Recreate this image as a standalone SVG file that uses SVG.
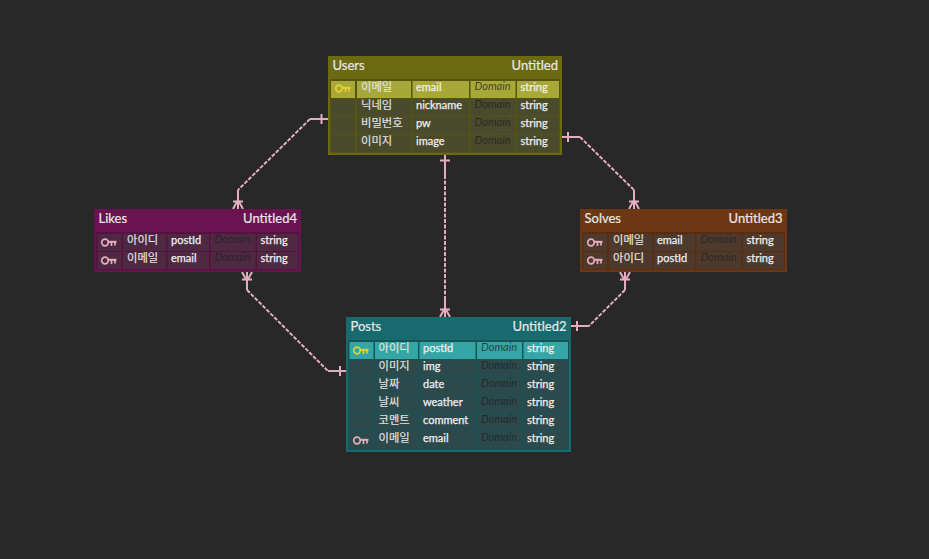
<svg xmlns="http://www.w3.org/2000/svg" width="929" height="559" viewBox="0 0 929 559">
<style>
text{font-family:"Lato","Noto Sans CJK KR",sans-serif;fill:#e8e8e8}
.h{font-size:13px;stroke:#e8e8e8;stroke-width:.2;transform:translateY(.8px)}
.e{text-anchor:end}
.n{font-size:11.300px;font-family:"Noto Sans CJK KR",sans-serif;fill:#e4e4e4;stroke:#e4e4e4;stroke-width:.15}
.f{font-size:11px;fill:#efefef;stroke:#efefef;stroke-width:.25;transform:translateY(-.8px)}
.d{font-size:11px;font-style:italic;fill:#1e1e1e;fill-opacity:.75;transform:translateY(-.5px)}
.c{fill:none;stroke:#e3adbd;stroke-width:2}
.s{stroke-dasharray:4 1.500}
.uh{fill:#6b6a10}.uf{fill:#55550f}.ur{fill:#4a4a2c}.us{fill:#a8a838}
.ph{fill:#176a6e}.pf{fill:#155457}.pr{fill:#2c4a4c}.ps{fill:#35a5a5}
.lh{fill:#6b1350}.lf{fill:#571140}.lr{fill:#4d2a42}
.sh{fill:#6d3714}.sf{fill:#582c10}.sr{fill:#4e3a2c}
.ky{color:#e3d12c}.kp{color:#e3adbd}
</style>
<defs>
<symbol id="key" viewBox="0 0 16 10" overflow="visible">
<g fill="none" stroke="currentColor"><circle cx="4" cy="4.500" r="3.300" stroke-width="1.700"/><path stroke-width="2" d="M7 3.800H15.500"/><path stroke-width="1.700" d="M10.500 4V8M14 4V7.500"/></g>
</symbol>
</defs>
<rect width="929" height="559" fill="#282828"/>
<g id="connectors">
<path class="c" d="M328 119H310"/><path class="c s" d="M310 119L238 190"/><path class="c" d="M238 190V209M321.500 114V124"/><path class="c" d="M238 200L233 209M238 200L243 209M233 201.500H243"/>
<path class="c" d="M562 137H580"/><path class="c s" d="M580 137L634 190"/><path class="c" d="M634 190V209M568 132V142"/><path class="c" d="M634 200L629 209M634 200L639 209M629 201.500H639"/>
<path class="c" d="M445 155V175"/><path class="c s" d="M445 175V297"/><path class="c" d="M445 297V317M440 160.500H450"/><path class="c" d="M445 308L440 317M445 308L450 317M440 309.500H450"/>
<path class="c" d="M247 272V290"/><path class="c s" d="M247 290L328 371"/><path class="c" d="M328 371H346M340 366V376"/><path class="c" d="M247 281L242 272M247 281L252 272M242 279.500H252"/>
<path class="c" d="M625 272V290"/><path class="c s" d="M625 290L589 326"/><path class="c" d="M589 326H571M577 321V331"/><path class="c" d="M625 281L620 272M625 281L630 272M620 279.500H630"/>
</g>
<g id="users">
<rect class="uh" x="328" y="56" width="234" height="99"/>
<rect class="uf" x="330" y="79" width="230" height="74"/>
<rect class="us" x="331" y="81" width="24" height="17"/><rect class="us" x="357" y="81" width="54" height="17"/><rect class="us" x="412.500" y="81" width="56.500" height="17"/><rect class="us" x="470.500" y="81" width="45" height="17"/><rect class="us" x="517" y="81" width="42" height="17"/>
<rect class="ur" x="331" y="99" width="24" height="17"/><rect class="ur" x="357" y="99" width="54" height="17"/><rect class="ur" x="412.500" y="99" width="56.500" height="17"/><rect class="ur" x="470.500" y="99" width="45" height="17"/><rect class="ur" x="517" y="99" width="42" height="17"/>
<rect class="ur" x="331" y="117" width="24" height="17"/><rect class="ur" x="357" y="117" width="54" height="17"/><rect class="ur" x="412.500" y="117" width="56.500" height="17"/><rect class="ur" x="470.500" y="117" width="45" height="17"/><rect class="ur" x="517" y="117" width="42" height="17"/>
<rect class="ur" x="331" y="135" width="24" height="17"/><rect class="ur" x="357" y="135" width="54" height="17"/><rect class="ur" x="412.500" y="135" width="56.500" height="17"/><rect class="ur" x="470.500" y="135" width="45" height="17"/><rect class="ur" x="517" y="135" width="42" height="17"/>
<use href="#key" class="ky" x="335" y="84" width="16" height="10"/>
<text class="h" x="332.500" y="69">Users</text><text class="h e" x="558" y="69">Untitled</text>
<text class="n" x="361" y="91">이메일</text><text class="f" x="416" y="91.500">email</text><text class="d" x="474.500" y="90.500">Domain</text><text class="f" x="520.500" y="91.500">string</text>
<text class="n" x="361" y="109">닉네임</text><text class="f" x="416" y="109.500">nickname</text><text class="d" x="474.500" y="108.500">Domain</text><text class="f" x="520.500" y="109.500">string</text>
<text class="n" x="361" y="127">비밀번호</text><text class="f" x="416" y="127.500">pw</text><text class="d" x="474.500" y="126.500">Domain</text><text class="f" x="520.500" y="127.500">string</text>
<text class="n" x="361" y="145">이미지</text><text class="f" x="416" y="145.500">image</text><text class="d" x="474.500" y="144.500">Domain</text><text class="f" x="520.500" y="145.500">string</text>
</g>
<g id="posts">
<rect class="ph" x="346" y="317" width="225" height="135"/>
<rect class="pf" x="348" y="340" width="221" height="110"/>
<rect class="ps" x="349.500" y="342" width="24" height="17"/><rect class="ps" x="375" y="342" width="43" height="17"/><rect class="ps" x="419.500" y="342" width="56" height="17"/><rect class="ps" x="477" y="342" width="45" height="17"/><rect class="ps" x="523.500" y="342" width="44.500" height="17"/>
<rect class="pr" x="349.500" y="360" width="24" height="17"/><rect class="pr" x="375" y="360" width="43" height="17"/><rect class="pr" x="419.500" y="360" width="56" height="17"/><rect class="pr" x="477" y="360" width="45" height="17"/><rect class="pr" x="523.500" y="360" width="44.500" height="17"/>
<rect class="pr" x="349.500" y="378" width="24" height="17"/><rect class="pr" x="375" y="378" width="43" height="17"/><rect class="pr" x="419.500" y="378" width="56" height="17"/><rect class="pr" x="477" y="378" width="45" height="17"/><rect class="pr" x="523.500" y="378" width="44.500" height="17"/>
<rect class="pr" x="349.500" y="396" width="24" height="17"/><rect class="pr" x="375" y="396" width="43" height="17"/><rect class="pr" x="419.500" y="396" width="56" height="17"/><rect class="pr" x="477" y="396" width="45" height="17"/><rect class="pr" x="523.500" y="396" width="44.500" height="17"/>
<rect class="pr" x="349.500" y="414" width="24" height="17"/><rect class="pr" x="375" y="414" width="43" height="17"/><rect class="pr" x="419.500" y="414" width="56" height="17"/><rect class="pr" x="477" y="414" width="45" height="17"/><rect class="pr" x="523.500" y="414" width="44.500" height="17"/>
<rect class="pr" x="349.500" y="432" width="24" height="17"/><rect class="pr" x="375" y="432" width="43" height="17"/><rect class="pr" x="419.500" y="432" width="56" height="17"/><rect class="pr" x="477" y="432" width="45" height="17"/><rect class="pr" x="523.500" y="432" width="44.500" height="17"/>
<use href="#key" class="ky" x="353" y="346" width="16" height="10"/><use href="#key" class="kp" x="353" y="436" width="16" height="10"/>
<text class="h" x="350.500" y="330">Posts</text><text class="h e" x="566.500" y="330">Untitled2</text>
<text class="n" x="378.500" y="352">아이디</text><text class="f" x="423" y="352.500">postId</text><text class="d" x="481" y="351.500">Domain</text><text class="f" x="527" y="352.500">string</text>
<text class="n" x="378.500" y="370">이미지</text><text class="f" x="423" y="370.500">img</text><text class="d" x="481" y="369.500">Domain</text><text class="f" x="527" y="370.500">string</text>
<text class="n" x="378.500" y="388">날짜</text><text class="f" x="423" y="388.500">date</text><text class="d" x="481" y="387.500">Domain</text><text class="f" x="527" y="388.500">string</text>
<text class="n" x="378.500" y="406">날씨</text><text class="f" x="423" y="406.500">weather</text><text class="d" x="481" y="405.500">Domain</text><text class="f" x="527" y="406.500">string</text>
<text class="n" x="378.500" y="424">코멘트</text><text class="f" x="423" y="424.500">comment</text><text class="d" x="481" y="423.500">Domain</text><text class="f" x="527" y="424.500">string</text>
<text class="n" x="378.500" y="442">이메일</text><text class="f" x="423" y="442.500">email</text><text class="d" x="481" y="441.500">Domain</text><text class="f" x="527" y="442.500">string</text>
</g>
<g id="likes">
<rect class="lh" x="94" y="209" width="207" height="63"/>
<rect class="lf" x="96" y="232" width="203" height="38"/>
<rect class="lr" x="97.500" y="234" width="24" height="17"/><rect class="lr" x="123" y="234" width="43" height="17"/><rect class="lr" x="167.500" y="234" width="41.500" height="17"/><rect class="lr" x="210.500" y="234" width="45" height="17"/><rect class="lr" x="257" y="234" width="41" height="17"/>
<rect class="lr" x="97.500" y="252" width="24" height="17"/><rect class="lr" x="123" y="252" width="43" height="17"/><rect class="lr" x="167.500" y="252" width="41.500" height="17"/><rect class="lr" x="210.500" y="252" width="45" height="17"/><rect class="lr" x="257" y="252" width="41" height="17"/>
<use href="#key" class="kp" x="101" y="238" width="16" height="10"/><use href="#key" class="kp" x="101" y="256" width="16" height="10"/>
<text class="h" x="98.500" y="222">Likes</text><text class="h e" x="297" y="222">Untitled4</text>
<text class="n" x="127" y="244">아이디</text><text class="f" x="171" y="244.500">postId</text><text class="d" x="214.500" y="243.500">Domain</text><text class="f" x="260.500" y="244.500">string</text>
<text class="n" x="127" y="262">이메일</text><text class="f" x="171" y="262.500">email</text><text class="d" x="214.500" y="261.500">Domain</text><text class="f" x="260.500" y="262.500">string</text>
</g>
<g id="solves">
<rect class="sh" x="580" y="209" width="207" height="63"/>
<rect class="sf" x="582" y="232" width="203" height="38"/>
<rect class="sr" x="583" y="234" width="24" height="17"/><rect class="sr" x="609" y="234" width="43" height="17"/><rect class="sr" x="653.500" y="234" width="41.500" height="17"/><rect class="sr" x="696.500" y="234" width="45" height="17"/><rect class="sr" x="743" y="234" width="41" height="17"/>
<rect class="sr" x="583" y="252" width="24" height="17"/><rect class="sr" x="609" y="252" width="43" height="17"/><rect class="sr" x="653.500" y="252" width="41.500" height="17"/><rect class="sr" x="696.500" y="252" width="45" height="17"/><rect class="sr" x="743" y="252" width="41" height="17"/>
<use href="#key" class="kp" x="587" y="238" width="16" height="10"/><use href="#key" class="kp" x="587" y="256" width="16" height="10"/>
<text class="h" x="584.500" y="222">Solves</text><text class="h e" x="782.500" y="222">Untitled3</text>
<text class="n" x="613" y="244">이메일</text><text class="f" x="657" y="244.500">email</text><text class="d" x="700.500" y="243.500">Domain</text><text class="f" x="746.500" y="244.500">string</text>
<text class="n" x="613" y="262">아이디</text><text class="f" x="657" y="262.500">postId</text><text class="d" x="700.500" y="261.500">Domain</text><text class="f" x="746.500" y="262.500">string</text>
</g>
</svg>
